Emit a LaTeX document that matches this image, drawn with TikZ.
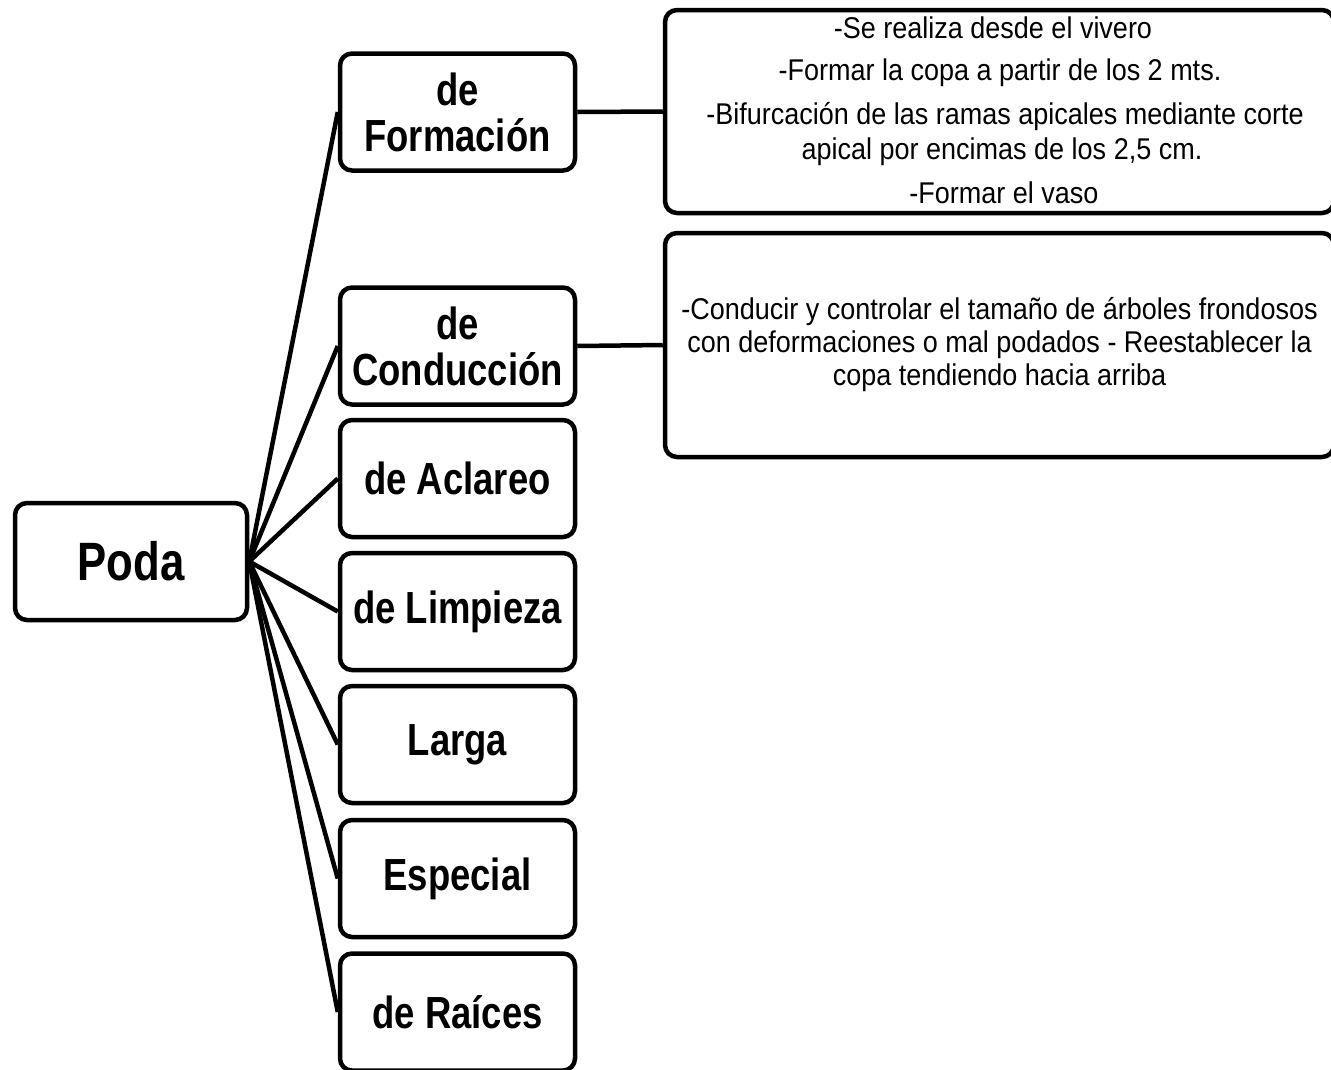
\documentclass[tikz,border=0pt]{standalone}
\usepackage{fontspec}
\setmainfont{Liberation Sans}
\newfontfamily\labfont{Liberation Sans}[FakeStretch=0.81]
\newfontfamily\txtfont{Liberation Sans}[FakeStretch=0.9]
\begin{document}
\begin{tikzpicture}[x=1pt,y=-1pt,
  box/.style={draw, line width=4.5pt, rounded corners=12pt, fill=white, inner sep=0pt, align=center},
  lab/.style={box, minimum width=235pt, minimum height=117pt, font=\labfont\bfseries\fontsize{45}{46}\selectfont},
  info/.style={box, minimum width=669pt},
  txt/.style={font=\txtfont\fontsize{30}{33}\selectfont, inner sep=0pt, align=center},
  link/.style={line width=4.5pt}]
\useasboundingbox (0,0) rectangle (1331,1069);
\clip (0,0) rectangle (1331,1069);
% root
\node[box, minimum width=232pt, minimum height=117pt, font=\labfont\bfseries\fontsize{54}{56}\selectfont] (poda) at (131,561.5) {Poda};
% children
\node[lab] (form) at (457.5,112) {de\\Formación};
\node[lab] (cond) at (457.5,346) {de\\Conducción};
\node[lab] (acl) at (457.5,478.5) {de Aclareo};
\node[lab] (limp) at (457.5,611.5) {de Limpieza};
\node[lab] (larga) at (457.5,744.5) {Larga};
\node[lab] (esp) at (457.5,878.5) {Especial};
\node[lab] (raic) at (457.5,1012) {de Raíces};
% info boxes
\node[info, minimum height=203pt] (inf1) at (999.5,111.5) {};
\node[info, minimum height=224pt, txt] (inf2) at (999.5,345) {-Conducir y controlar el tamaño de árboles frondosos\\con deformaciones o mal podados - Reestablecer la\\copa tendiendo hacia arriba};
\node[txt] (t1) at (993,28) {-Se realiza desde el vivero};
\node[txt] (t2) at (1000,73) {-Formar la copa a partir de los 2 mts.};
\node[txt] (t3) at (1005,117) {-Bifurcación de las ramas apicales mediante corte};
\node[txt] (t4) at (1002,152) {apical por encimas de los 2,5 cm.};
\node[txt] (t5) at (1004,193) {-Formar el vaso};
% connectors
\foreach \c in {form,cond,acl,limp,larga,esp,raic}
  \draw[link] (poda.east) -- (\c.west);
\draw[link] (form.east) -- (inf1.west);
\draw[link] (cond.east) -- (inf2.west);
\end{tikzpicture}
\end{document}
